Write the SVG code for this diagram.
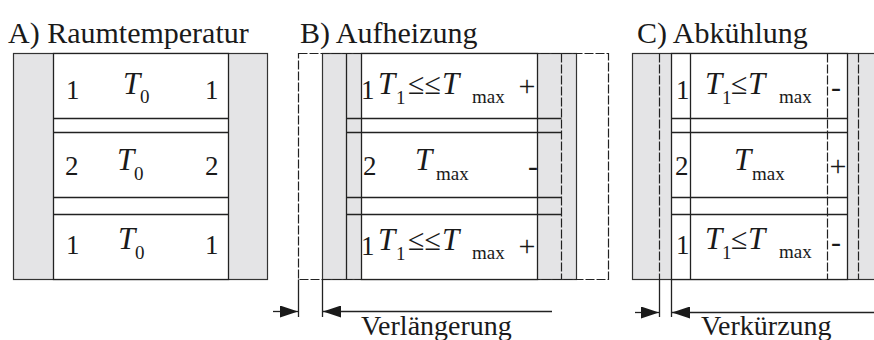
<svg xmlns="http://www.w3.org/2000/svg" width="874" height="340" viewBox="0 0 874 340">
<style>
text{font-family:'Liberation Serif','Times New Roman',serif;fill:#1a1a1a}
.title{font-size:30px}
.num{font-size:27px}
.T{font-style:italic;font-size:31px}
.sub{font-size:19px}
.sym{font-size:30px}
.dim{font-size:28px}
.wall{fill:#e4e4e6;stroke:#333;stroke-width:1.2}
.box{fill:#fff;stroke:#222;stroke-width:1.3}
.ln{stroke:#222;stroke-width:1.3;fill:none}
.dash{stroke:#222;stroke-width:1.2;fill:none;stroke-dasharray:9 2}
</style>
<defs>
<marker id="ah" markerUnits="userSpaceOnUse" markerWidth="18" markerHeight="12" refX="18" refY="6" orient="auto">
<path d="M0,0 L18,6 L0,12 z" fill="#1a1a1a"/>
</marker>
</defs>
<rect width="874" height="340" fill="#fff"/>

<g id="titles">
<text class="title" x="8" y="43">A) Raumtemperatur</text>
<text class="title" x="300" y="43">B) Aufheizung</text>
<text class="title" x="637" y="43">C) Abkühlung</text>
</g>

<g id="panelA">
<rect class="wall" x="13.5" y="53.5" width="254" height="226"/>
<rect class="box" x="53.5" y="53.5" width="175" height="226"/>
<path class="ln" d="M53.5,118.5H228.5M53.5,132.5H228.5M53.5,197.5H228.5M53.5,214.5H228.5"/>
<text class="num" x="66" y="99">1</text>
<text class="T" x="123" y="94">T</text><text class="sub" x="140" y="103">0</text>
<text class="num" x="205" y="99">1</text>
<text class="num" x="65" y="175">2</text>
<text class="T" x="117" y="170">T</text><text class="sub" x="134" y="180">0</text>
<text class="num" x="205" y="175">2</text>
<text class="num" x="66" y="254">1</text>
<text class="T" x="118" y="249">T</text><text class="sub" x="135" y="259">0</text>
<text class="num" x="205" y="254">1</text>
</g>

<g id="panelB">
<rect class="wall" x="322.5" y="53.5" width="254" height="226"/>
<rect class="box" x="361.5" y="53.5" width="176" height="226"/>
<path class="ln" d="M346.5,53.5V279.5M346.5,118.5H561.5M346.5,132.5H561.5M346.5,197.5H561.5M346.5,214.5H561.5"/>
<path class="dash" d="M561.5,53.5V279.5"/>
<rect class="dash" x="298.5" y="53.5" width="310" height="226"/>
<text class="num" x="361" y="99">1</text>
<text class="T" x="378" y="94">T</text><text class="sub" x="396" y="104">1</text>
<text class="sym" x="408" y="94">≤≤</text>
<text class="T" x="442" y="94">T</text><text class="sub" x="472" y="103">max</text>
<text class="sym" x="527" y="96" text-anchor="middle">+</text>
<text class="num" x="363" y="175">2</text>
<text class="T" x="415" y="170">T</text><text class="sub" x="436" y="180">max</text>
<text class="sym" x="533" y="176" text-anchor="middle">-</text>
<text class="num" x="361" y="255">1</text>
<text class="T" x="378" y="250">T</text><text class="sub" x="396" y="260">1</text>
<text class="sym" x="408" y="250">≤≤</text>
<text class="T" x="442" y="250">T</text><text class="sub" x="472" y="259">max</text>
<text class="sym" x="527" y="256" text-anchor="middle">+</text>
</g>

<g id="panelC">
<rect class="wall" x="632.5" y="53.5" width="254" height="226"/>
<rect class="box" x="671.5" y="53.5" width="176" height="226"/>
<path class="ln" d="M690.5,53.5V279.5M671.5,118.5H847.5M671.5,132.5H847.5M671.5,197.5H847.5M671.5,214.5H847.5"/>
<path class="dash" d="M827.5,53.5V279.5M659.5,53.5V279.5M858.5,53.5V279.5"/>
<text class="num" x="676" y="99">1</text>
<text class="T" x="705" y="94">T</text><text class="sub" x="722" y="104">1</text>
<text class="sym" x="731" y="94">≤</text>
<text class="T" x="748" y="94">T</text><text class="sub" x="779" y="103">max</text>
<text class="sym" x="836" y="97" text-anchor="middle">-</text>
<text class="num" x="675" y="175">2</text>
<text class="T" x="734" y="170">T</text><text class="sub" x="752" y="180">max</text>
<text class="sym" x="838" y="176" text-anchor="middle">+</text>
<text class="num" x="676" y="254">1</text>
<text class="T" x="705" y="249">T</text><text class="sub" x="722" y="259">1</text>
<text class="sym" x="731" y="249">≤</text>
<text class="T" x="748" y="249">T</text><text class="sub" x="779" y="258">max</text>
<text class="sym" x="836" y="252" text-anchor="middle">-</text>
</g>

<g id="connectors">
<path class="ln" d="M298.5,279.5V317M322.5,279.5V317M659.5,279.5V317M671.5,279.5V317"/>
<line class="ln" x1="273" y1="311.5" x2="298" y2="311.5" marker-end="url(#ah)"/>
<line class="ln" x1="552" y1="311.5" x2="323" y2="311.5" marker-end="url(#ah)"/>
<line class="ln" x1="635" y1="312.5" x2="659" y2="312.5" marker-end="url(#ah)"/>
<line class="ln" x1="874" y1="312.5" x2="672" y2="312.5" marker-end="url(#ah)"/>
<text class="dim" x="361" y="335">Verlängerung</text>
<text class="dim" x="701" y="335">Verkürzung</text>
</g>
</svg>
